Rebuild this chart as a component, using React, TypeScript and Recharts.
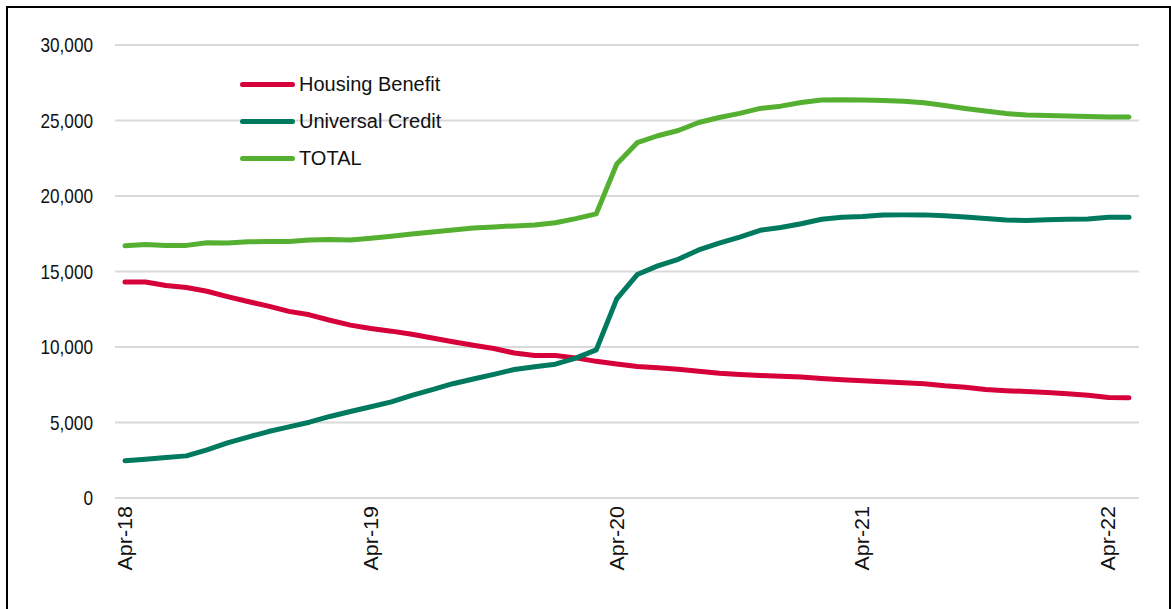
import { LineChart, Line, XAxis, YAxis, CartesianGrid } from 'recharts';

const months = [
  "Apr-18", "May-18", "Jun-18", "Jul-18", "Aug-18", "Sep-18", "Oct-18", "Nov-18", "Dec-18", "Jan-19", "Feb-19", "Mar-19",
  "Apr-19", "May-19", "Jun-19", "Jul-19", "Aug-19", "Sep-19", "Oct-19", "Nov-19", "Dec-19", "Jan-20", "Feb-20", "Mar-20",
  "Apr-20", "May-20", "Jun-20", "Jul-20", "Aug-20", "Sep-20", "Oct-20", "Nov-20", "Dec-20", "Jan-21", "Feb-21", "Mar-21",
  "Apr-21", "May-21", "Jun-21", "Jul-21", "Aug-21", "Sep-21", "Oct-21", "Nov-21", "Dec-21", "Jan-22", "Feb-22", "Mar-22",
  "Apr-22", "May-22",
];

const housingBenefit = [
  14300, 14300, 14070, 13940, 13690, 13340, 13010, 12710, 12360, 12130, 11770, 11450,
  11220, 11050, 10840, 10600, 10350, 10120, 9900, 9600, 9440, 9430, 9280, 9050,
  8870, 8710, 8630, 8520, 8400, 8260, 8180, 8110, 8060, 8020, 7920, 7830,
  7760, 7700, 7630, 7570, 7430, 7330, 7190, 7110, 7050, 6980, 6900, 6800,
  6660, 6640,
];

const universalCredit = [
  2460, 2570, 2680, 2790, 3190, 3650, 4030, 4400, 4710, 5020, 5400, 5730,
  6040, 6370, 6800, 7180, 7570, 7880, 8190, 8510, 8690, 8860, 9260, 9810,
  13190, 14800, 15370, 15810, 16430, 16880, 17280, 17730, 17910, 18160, 18460, 18600,
  18650, 18740, 18750, 18750, 18690, 18610, 18510, 18410, 18380, 18420, 18460, 18480,
  18600, 18600,
];

const total = [
  16700, 16790, 16720, 16730, 16910, 16880, 16970, 16980, 16990, 17080, 17120, 17080,
  17200, 17340, 17480, 17620, 17750, 17880, 17950, 18020, 18080, 18230, 18500, 18820,
  22120, 23530, 23990, 24340, 24870, 25200, 25470, 25800, 25950, 26190, 26360, 26380,
  26360, 26330, 26270, 26180, 26000, 25800, 25630, 25460, 25360, 25330, 25300, 25270,
  25240, 25230,
];

const yTicks = [0, 5000, 10000, 15000, 20000, 25000, 30000];

const series = [
  { key: 'hb', name: 'Housing Benefit', color: '#d6003a' },
  { key: 'uc', name: 'Universal Credit', color: '#007a5e' },
  { key: 'total', name: 'TOTAL', color: '#55b031' },
];

const data = months.map((month, i) => ({
  month,
  hb: housingBenefit[i],
  uc: universalCredit[i],
  total: total[i],
}));

const FONT = '"Liberation Sans", Arial, sans-serif';

const YTick = (props: any) => {
  const { x, y, payload } = props;
  return (
    <text
      transform={`translate(${x},${y}) scale(0.86,1)`}
      dy="0.35em"
      textAnchor="end"
      fontFamily={FONT}
      fontSize={20}
      fill="#111"
    >
      {payload.value.toLocaleString('en-US')}
    </text>
  );
};

const XTick = (props: any) => {
  const { x, y, payload } = props;
  return (
    <text
      transform={`translate(${x},${y}) rotate(-90) scale(1,0.9)`}
      dy="0.35em"
      textAnchor="end"
      fontFamily={FONT}
      fontSize={21.5}
      fill="#111"
    >
      {payload.value}
    </text>
  );
};

const App = () => {
  return (
    <div style={{ position: 'relative', width: 1171, height: 609, background: '#fff', overflow: 'hidden' }}>
      <style>{`body{margin:0}`}</style>
      <div
        style={{
          position: 'absolute',
          left: 6,
          top: 6,
          width: 1161,
          height: 620,
          border: '2px solid #000',
        }}
      />
      <LineChart
        width={1171}
        height={609}
        data={data}
        margin={{ top: 45, right: 32, bottom: 31, left: 0 }}
      >
        <CartesianGrid vertical={false} stroke="#d9d9d9" strokeWidth={2} />
        <XAxis
          dataKey="month"
          interval={11}
          axisLine={false}
          tickLine={false}
          tickSize={0}
          tickMargin={8}
          height={80}
          padding={{ left: 10, right: 10 }}
          tick={<XTick />}
        />
        <YAxis
          domain={[0, 30000]}
          ticks={yTicks}
          axisLine={false}
          tickLine={false}
          tickSize={0}
          tickMargin={22}
          width={115}
          tick={<YTick />}
        />
        {series.map((s) => (
          <Line
            key={s.key}
            type="linear"
            dataKey={s.key}
            name={s.name}
            stroke={s.color}
            strokeWidth={5}
            dot={false}
            strokeLinecap="round"
            strokeLinejoin="round"
            isAnimationActive={false}
          />
        ))}
      </LineChart>
      {/* legend, upper left inside the plot */}
      <div style={{ position: 'absolute', left: 240, top: 66, display: 'flex', flexDirection: 'column' }}>
        {series.map((s) => (
          <div key={s.key} style={{ display: 'flex', alignItems: 'center', height: 37 }}>
            <div style={{ width: 55, height: 5, borderRadius: 3, background: s.color, marginRight: 4 }} />
            <span style={{ fontFamily: FONT, fontSize: 20, color: '#111' }}>{s.name}</span>
          </div>
        ))}
      </div>
    </div>
  );
};

export default App;
